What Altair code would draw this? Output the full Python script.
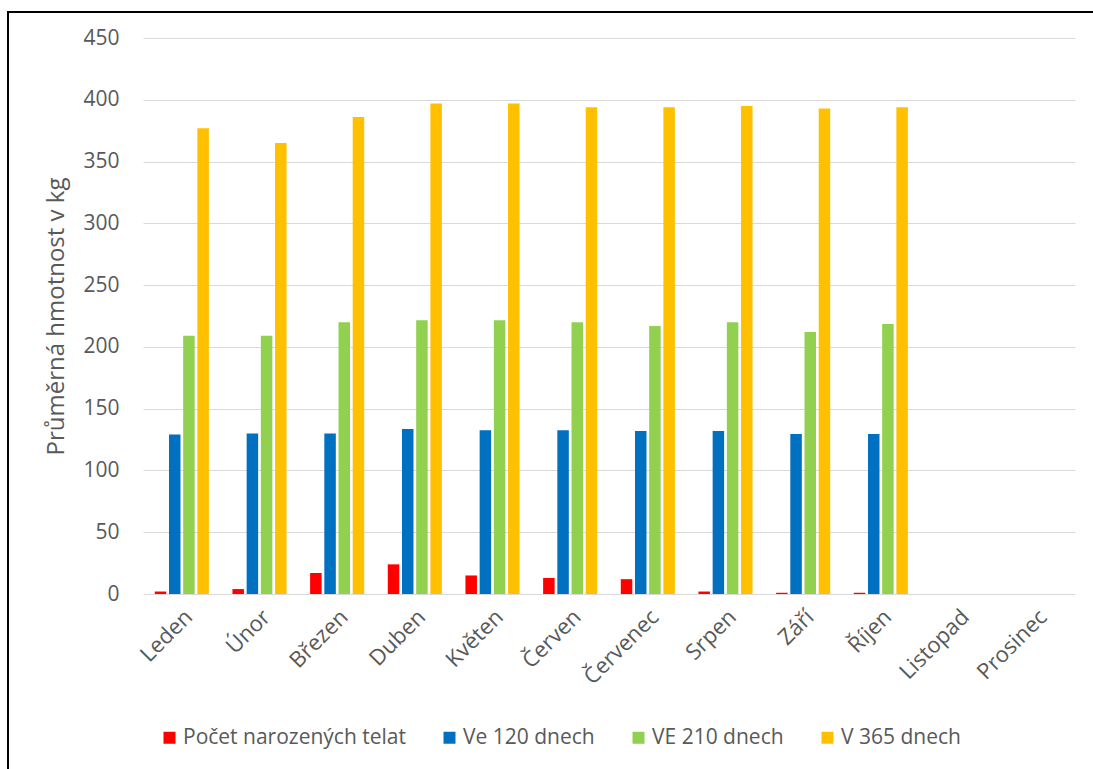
import altair as alt
import pandas as pd

months = ["Leden", "Únor", "Březen", "Duben", "Květen", "Červen",
          "Červenec", "Srpen", "Září", "Říjen", "Listopad", "Prosinec"]
series = ["Počet narozených telat", "Ve 120 dnech", "VE 210 dnech", "V 365 dnech"]
colors = ["#FF0000", "#0070C0", "#92D050", "#FFC000"]

pocet = [2, 4, 17, 24, 15, 13, 12, 2, 1, 1, None, None]
ve120 = [129, 130, 130, 133.5, 132.5, 132.5, 132, 132, 129.5, 129.5, None, None]
ve210 = [209, 209, 220, 221.5, 221.5, 220, 217, 220, 212, 218.5, None, None]
v365 = [377, 365, 386, 397, 397, 394, 394, 395, 393, 394, None, None]

rows = []
for s, vals in zip(series, [pocet, ve120, ve210, v365]):
    for m, v in zip(months, vals):
        rows.append({"mesic": m, "rada": s, "hodnota": v})
df = pd.DataFrame(rows)

W, H = 932, 556
FONT = "Open Sans"
GREY = "#595959"

bars = alt.Chart(df).mark_bar().encode(
    x=alt.X("mesic:N", sort=months, title=None,
            scale=alt.Scale(paddingInner=0, paddingOuter=0),
            axis=alt.Axis(labelAngle=-45, ticks=False, domain=False, grid=False,
                          labelFontSize=22, labelColor=GREY, labelFont=FONT,
                          labelPadding=12)),
    xOffset=alt.XOffset("rada:N", sort=series,
                        scale=alt.Scale(paddingInner=0.19, paddingOuter=0.83)),
    y=alt.Y("hodnota:Q", title="Průměrná hmotnost v kg",
            scale=alt.Scale(domain=[0, 450], nice=False),
            axis=alt.Axis(values=list(range(0, 451, 50)), ticks=False, domain=False,
                          gridColor="#d9d9d9", gridWidth=1,
                          labelFontSize=21, labelColor=GREY, labelFont=FONT,
                          labelPadding=24, titleFontSize=24, titleColor=GREY,
                          titleFont=FONT, titleFontWeight="normal", titlePadding=14)),
    color=alt.Color("rada:N", sort=series,
                    scale=alt.Scale(domain=series, range=colors),
                    legend=alt.Legend(title=None, orient="none", direction="horizontal",
                                      legendX=16, legendY=689, symbolType="square",
                                      symbolSize=144, symbolStrokeWidth=0,
                                      labelFontSize=21, labelColor=GREY, labelFont=FONT,
                                      labelLimit=500, labelOffset=3, columnPadding=33)),
)

border = alt.Chart(pd.DataFrame({"a": [0]})).mark_rect(
    fill=None, stroke="black", strokeWidth=2
).encode(
    x=alt.value(-135), x2=alt.value(W + 60),
    y=alt.value(-26), y2=alt.value(H + 220),
)

chart = alt.layer(bars, border).properties(
    width=W, height=H,
    autosize=alt.AutoSizeParams(type="none"),
    padding={"left": 143, "top": 38, "right": 18, "bottom": 175},
    background="white",
).configure_view(stroke=None)

chart.save("out.html", embed_options={"renderer": "svg", "actions": False})
